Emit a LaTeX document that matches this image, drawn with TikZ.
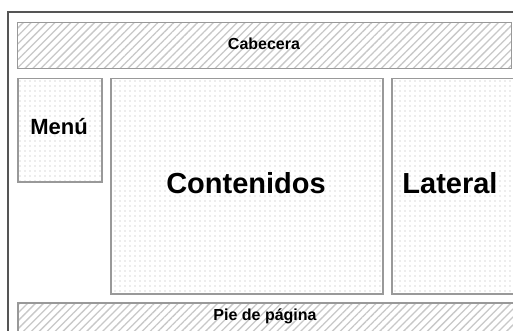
\documentclass[tikz,border=0pt]{standalone}
\usepackage{fontspec}
\setmainfont{Liberation Sans}
\usetikzlibrary{patterns.meta}
\definecolor{boxline}{HTML}{999999}
\definecolor{frameline}{HTML}{555555}
\definecolor{patcol}{HTML}{C8C8C8}
\definecolor{dotcol}{HTML}{B4B4B4}
\begin{document}
\begin{tikzpicture}[x=1pt,y=-1pt,
  hatchbox/.style={draw=boxline, line width=1.5pt, pattern={Lines[angle=45,distance=5.6pt,line width=1.3pt]}, pattern color=patcol, anchor=north west, inner sep=0pt},
  dotbox/.style={draw=boxline, line width=1.5pt, pattern={Dots[radius=0.6pt,distance=5pt]}, pattern color=dotcol, anchor=north west, inner sep=0pt},
  lbl/.style={font=\bfseries, text=black, inner sep=0pt}]
\useasboundingbox (0,0) rectangle (513,331);
\clip (0,0) rectangle (513,331);
\fill[white] (0,0) rectangle (513,331);
\draw[frameline, line width=1.5pt] (8,345) -- (8,12) -- (525,12);
\node[hatchbox, minimum width=494pt, minimum height=46pt] (cab) at (17,22) {};
\node[dotbox, minimum width=84pt, minimum height=103pt] (menu) at (17,78) {};
\node[dotbox, minimum width=272pt, minimum height=215pt] (cont) at (110,78) {};
\node[dotbox, minimum width=130pt, minimum height=215pt] (lat) at (391,78) {};
\node[hatchbox, minimum width=500pt, minimum height=40pt] (pie) at (17,302) {};
\node[lbl, font=\fontsize{16}{18}\selectfont\bfseries] (tcab) at (264,44) {Cabecera};
\node[lbl, font=\fontsize{22}{24}\selectfont\bfseries] (tmenu) at (59,127) {Menú};
\node[lbl, font=\fontsize{29}{32}\selectfont\bfseries] (tcont) at (246,183) {Contenidos};
\node[lbl, font=\fontsize{29}{32}\selectfont\bfseries] (tlat) at (450,183) {Lateral};
\node[lbl, font=\fontsize{16}{18}\selectfont\bfseries] (tpie) at (265,316) {Pie de página};
\end{tikzpicture}
\end{document}
